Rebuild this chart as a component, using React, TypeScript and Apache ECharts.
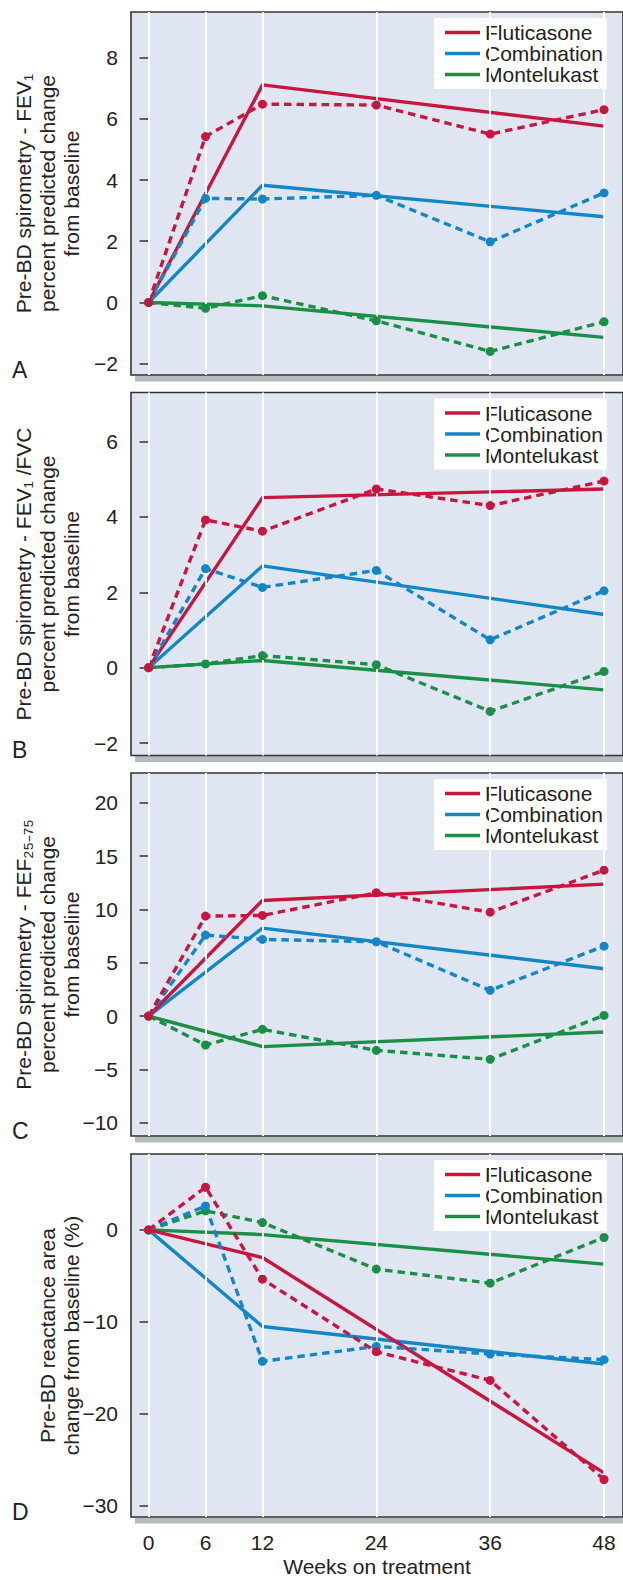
import React, { useEffect, useRef } from "react";
import * as echarts from "echarts";

// ---- Data ----
const weeks = [0, 6, 12, 24, 36, 48];
const fitWeeks = [0, 12, 48];
const yTicksA = [-2, 0, 2, 4, 6, 8];
const yTicksB = [-2, 0, 2, 4, 6];
const yTicksC = [-10, -5, 0, 5, 10, 15, 20];
const yTicksD = [-30, -20, -10, 0];
const groupNames = ["Fluticasone", "Combination", "Montelukast"];

// Panel A: FEV1
const flutA = [0, 5.42, 6.48, 6.45, 5.5, 6.3];
const combA = [0, 3.4, 3.38, 3.5, 1.98, 3.58];
const monteA = [0, -0.19, 0.22, -0.6, -1.6, -0.63];
const flutFitA = [0, 7.11, 5.76];
const combFitA = [0, 3.83, 2.8];
const monteFitA = [0, -0.11, -1.14];

// Panel B: FEV1/FVC
const flutB = [0, 3.92, 3.62, 4.74, 4.3, 4.95];
const combB = [0, 2.63, 2.13, 2.58, 0.74, 2.04];
const monteB = [0, 0.1, 0.32, 0.08, -1.16, -0.1];
const flutFitB = [0, 4.51, 4.74];
const combFitB = [0, 2.7, 1.41];
const monteFitB = [0, 0.19, -0.59];

// Panel C: FEF25-75
const flutC = [0, 9.38, 9.44, 11.57, 9.75, 13.69];
const combC = [0, 7.6, 7.19, 6.97, 2.41, 6.56];
const monteC = [0, -2.72, -1.25, -3.22, -4.06, 0.06];
const flutFitC = [0, 10.85, 12.38];
const combFitC = [0, 8.25, 4.44];
const monteFitC = [0, -2.87, -1.5];

// Panel D: reactance area
const flutD = [0, 4.64, -5.36, -13.26, -16.38, -27.17];
const combD = [0, 2.61, -14.31, -12.68, -13.51, -14.13];
const monteD = [0, 2.07, 0.8, -4.27, -5.8, -0.83];
const flutFitD = [0, -3.01, -26.45];
const combFitD = [0, -10.51, -14.6];
const monteFitD = [0, -0.51, -3.73];

const COLORS = ["#c8163f", "#1387c6", "#1b8f46"];
const FONT = "'Liberation Sans', Arial, Helvetica, sans-serif";

const panels = [
  {
    letter: "A",
    title: "Pre-BD spirometry - FEV\u2081\npercent predicted change\nfrom baseline",
    yMin: -2.37, yMax: 9.49, ticks: yTicksA,
    obs: [flutA, combA, monteA], fit: [flutFitA, combFitA, monteFitA],
  },
  {
    letter: "B",
    title: "Pre-BD spirometry - FEV\u2081 /FVC\npercent predicted change\nfrom baseline",
    yMin: -2.33, yMax: 7.3, ticks: yTicksB,
    obs: [flutB, combB, monteB], fit: [flutFitB, combFitB, monteFitB],
  },
  {
    letter: "C",
    title: "Pre-BD spirometry - FEF\u2082\u2085\u208B\u2087\u2085\npercent predicted change\nfrom baseline",
    yMin: -11.26, yMax: 22.81, ticks: yTicksC,
    obs: [flutC, combC, monteC], fit: [flutFitC, combFitC, monteFitC],
  },
  {
    letter: "D",
    title: "Pre-BD reactance area\nchange from baseline (%)",
    yMin: -31.25, yMax: 8.26, ticks: yTicksD,
    obs: [flutD, combD, monteD], fit: [flutFitD, combFitD, monteFitD],
  },
];

const GRID_LEFT = 131;
const GRID_WIDTH = 495;
const GRID_HEIGHT = 363;
const GRID_TOPS = [12, 392.5, 773, 1154];

function buildOption() {
  const grid: any[] = [];
  const xAxis: any[] = [];
  const yAxis: any[] = [];
  const series: any[] = [];
  const legend: any[] = [];
  const graphic: any[] = [];

  panels.forEach((p, i) => {
    const top = GRID_TOPS[i];
    const isLast = i === panels.length - 1;
    grid.push({
      left: GRID_LEFT,
      top,
      width: GRID_WIDTH,
      height: GRID_HEIGHT,
      show: true,
      backgroundColor: "#dfe6f2",
      borderColor: "#333",
      borderWidth: 1.6,
      containLabel: false,
    });
    xAxis.push({
      type: "value",
      gridIndex: i,
      min: -1.855,
      max: 50,
      axisLine: { show: false },
      splitLine: { show: false },
      axisTick: {
        show: !isLast,
        length: 17,
        inside: false,
        customValues: weeks,
        lineStyle: { color: "#333", width: 1.5 },
      },
      axisLabel: {
        show: isLast,
        customValues: weeks,
        fontSize: 21,
        fontFamily: FONT,
        color: "#222",
        margin: 15,
      },
      name: isLast ? "Weeks on treatment" : "",
      nameLocation: "middle",
      nameGap: 39,
      nameMoveOverlap: false,
      nameTextStyle: { fontSize: 21, fontFamily: FONT, color: "#222" },
    });
    yAxis.push({
      type: "value",
      gridIndex: i,
      min: p.yMin,
      max: p.yMax,
      axisLine: { show: false },
      splitLine: { show: false },
      axisTick: {
        show: true,
        length: 9,
        customValues: p.ticks,
        lineStyle: { color: "#333", width: 1.5 },
      },
      axisLabel: {
        customValues: p.ticks,
        fontSize: 21,
        fontFamily: FONT,
        color: "#222",
        margin: 13,
        formatter: (v: number) => String(v).replace("-", "\u2212"),
      },
      name: p.title,
      nameLocation: "middle",
      nameRotate: 90,
      nameGap: 48,
      nameMoveOverlap: false,
      nameTextStyle: {
        fontSize: 21,
        lineHeight: 24,
        fontFamily: FONT,
        color: "#222",
        align: "center",
        verticalAlign: "bottom",
      },
    });

    // white vertical gridlines
    series.push({
      type: "line",
      xAxisIndex: i,
      yAxisIndex: i,
      data: [],
      z: 1,
      silent: true,
      markLine: {
        silent: true,
        symbol: "none",
        label: { show: false },
        lineStyle: { color: "#ffffff", width: 2, type: "solid" },
        data: weeks.map((w) => ({ xAxis: w })),
      },
    });

    // series: green, blue, red order so red on top
    [2, 1, 0].forEach((g) => {
      series.push({
        name: groupNames[g],
        type: "line",
        xAxisIndex: i,
        yAxisIndex: i,
        z: 3,
        showSymbol: false,
        symbol: "none",
        lineStyle: { color: COLORS[g], width: 3.4 },
        itemStyle: { color: COLORS[g] },
        data: fitWeeks.map((w, k) => [w, p.fit[g][k]]),
      });
    });
    [2, 1, 0].forEach((g) => {
      const d = weeks.map((w, k) => [w, p.obs[g][k]]);
      series.push({
        name: groupNames[g] + " observed",
        type: "line",
        xAxisIndex: i,
        yAxisIndex: i,
        z: 4,
        showSymbol: false,
        symbol: "none",
        lineStyle: { color: COLORS[g], width: 3.4, type: [7.5, 5] },
        itemStyle: { color: COLORS[g] },
        data: d,
      });
      series.push({
        name: groupNames[g] + " points",
        type: "scatter",
        xAxisIndex: i,
        yAxisIndex: i,
        z: 5,
        symbol: "circle",
        symbolSize: 9,
        itemStyle: { color: COLORS[g], opacity: 1, borderWidth: 0 },
        data: d,
      });
    });

    legend.push({
      orient: "vertical",
      left: 434,
      top: top + 6,
      backgroundColor: "#ffffff",
      padding: [4, 4, 4, 11],
      itemGap: 0,
      itemWidth: 35,
      itemHeight: 3.5,
      icon: "rect",
      selectedMode: false,
      textStyle: {
        fontSize: 21,
        fontFamily: FONT,
        color: "#222",
        lineHeight: 20,
      },
      data: groupNames.map((n, g) => ({ name: n, itemStyle: { color: COLORS[g] } })),
    });

    // shadow under panel
    graphic.push({
      type: "rect",
      z: -1,
      shape: { x: 135, y: top + GRID_HEIGHT + 0.5, width: 500, height: 6 },
      style: { fill: "#b5bcbf" },
      silent: true,
    });
    // panel letter
    graphic.push({
      type: "text",
      left: 12,
      top: top + GRID_HEIGHT - 17,
      style: {
        text: p.letter,
        fontSize: 23,
        fontFamily: FONT,
        fill: "#222",
      },
    });
  });

  return {
    animation: false,
    grid,
    xAxis,
    yAxis,
    series,
    legend,
    graphic,
  };
}

export default function App() {
  const ref = useRef<HTMLDivElement>(null);
  useEffect(() => {
    if (!ref.current) return;
    const chart = echarts.init(ref.current, undefined, { renderer: "svg" });
    chart.setOption(buildOption() as any);
    return () => chart.dispose();
  }, []);
  return (
    <div
      ref={ref}
      style={{ position: "absolute", left: 0, top: 0, width: 623, height: 1580, background: "#fff" }}
    />
  );
}
